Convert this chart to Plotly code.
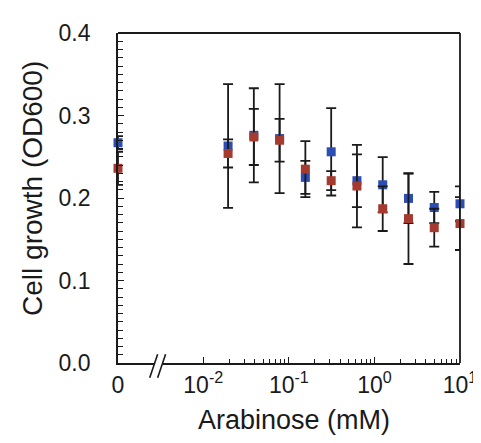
import plotly.graph_objects as go

# ---------------- data ----------------
arabinose_mM = [0.0195, 0.039, 0.078, 0.156, 0.3125, 0.625, 1.25, 2.5, 5, 10]
zero_conc = [0]

blue_vals = [0.263, 0.276, 0.272, 0.225, 0.256, 0.221, 0.216, 0.1995, 0.1885, 0.193]
blue_err = [0.075, 0.057, 0.066, 0.020, 0.053, 0.032, 0.0335, 0.030, 0.019, 0.021]
red_vals = [0.254, 0.274, 0.270, 0.235, 0.221, 0.2145, 0.187, 0.175, 0.164, 0.169]
red_err = [0.017, 0.034, 0.026, 0.034, 0.0115, 0.050, 0.027, 0.055, 0.023, 0.032]

blue_zero = [0.267]
blue_zero_err = [0.008]
red_zero = [0.236]
red_zero_err = [0.020]

x_tickvals = [0.01, 0.1, 1, 10]
x_ticktext = ["10<sup>-2</sup>", "10<sup>-1</sup>", "10<sup>0</sup>", "10<sup>1</sup>"]
y_tickvals = [0.0, 0.1, 0.2, 0.3, 0.4]
y_ticktext = ["0.0", "0.1", "0.2", "0.3", "0.4"]

x_title = "Arabinose (mM)"
y_title = "Cell growth (OD600)"

# ---------------- style ----------------
BLUE = "#2c4db3"
RED = "#a53a2f"
INK = "#1a1a1a"
FONT = "Liberation Sans, Arial, sans-serif"
W, H = 481, 443
ML, MR, MT, MB = 110, 26, 19, 88
PW, PH = W - ML - MR, H - MT - MB

def px_x(p):
    return (p - ML) / PW

def px_y(p):
    return (MT + PH - p) / PH

err_style = dict(type="data", color=INK, thickness=1.8, width=5, visible=True)
marker_size = 9

fig = go.Figure()

# zero-concentration points (linear stub axis)
fig.add_trace(go.Scatter(x=zero_conc, y=blue_zero, xaxis="x2", yaxis="y", mode="markers",
                         marker=dict(symbol="square", size=marker_size, color=BLUE),
                         error_y=dict(array=blue_zero_err, **err_style),
                         cliponaxis=False, showlegend=False))
fig.add_trace(go.Scatter(x=zero_conc, y=red_zero, xaxis="x2", yaxis="y", mode="markers",
                         marker=dict(symbol="square", size=marker_size, color=RED),
                         error_y=dict(array=red_zero_err, **err_style),
                         cliponaxis=False, showlegend=False))

# log-axis points
fig.add_trace(go.Scatter(x=arabinose_mM, y=blue_vals, xaxis="x", yaxis="y", mode="markers",
                         marker=dict(symbol="square", size=marker_size, color=BLUE),
                         error_y=dict(array=blue_err, **err_style),
                         cliponaxis=False, showlegend=False))
fig.add_trace(go.Scatter(x=arabinose_mM, y=red_vals, xaxis="x", yaxis="y", mode="markers",
                         marker=dict(symbol="square", size=marker_size, color=RED),
                         error_y=dict(array=red_err, **err_style),
                         cliponaxis=False, showlegend=False))

decade_px = (455 - 196) / 3.0
log_left = -2 - (196 - 155) / decade_px
log_right = 1.0

minor_vals = [m * 10 ** e for e in (-2, -1, 0) for m in range(2, 10)]

tickfont = dict(family=FONT, size=23, color=INK)

fig.update_layout(
    width=W, height=H,
    margin=dict(l=ML, r=MR, t=MT, b=MB, pad=0),
    paper_bgcolor="white", plot_bgcolor="white",
    font=dict(family=FONT, color=INK),
    xaxis=dict(type="log", domain=[px_x(155), 1], range=[log_left, log_right],
               anchor="y", showgrid=False, zeroline=False,
               showline=True, linecolor=INK, linewidth=1.8,
               tickmode="array", tickvals=x_tickvals, ticktext=x_ticktext,
               ticks="inside", ticklen=6, tickwidth=1.3, tickcolor=INK,
               minor=dict(tickmode="array", tickvals=minor_vals, ticks="inside",
                          ticklen=4, tickwidth=1.3, tickcolor=INK, showgrid=False),
               tickfont=tickfont, ticklabelstandoff=0),
    xaxis2=dict(type="linear", domain=[0, px_x(146)], range=[0, 1],
                anchor="y", showgrid=False, zeroline=False,
                showline=True, linecolor=INK, linewidth=1.8,
                tickmode="array", tickvals=[0], ticktext=["0"],
                ticks="", tickfont=tickfont, ticklabelstandoff=0),
    yaxis=dict(range=[0, 0.4], domain=[0, 1], anchor="x2",
               showgrid=False, zeroline=False,
               showline=True, linecolor=INK, linewidth=1.8,
               tickmode="array", tickvals=y_tickvals, ticktext=y_ticktext,
               ticks="inside", ticklen=6, tickwidth=1.3, tickcolor=INK,
               minor=dict(dtick=0.01, ticks="inside", ticklen=5, tickwidth=1.3,
                          tickcolor=INK, showgrid=False),
               tickfont=tickfont, ticklabelstandoff=21),
    shapes=[
        dict(type="line", xref="paper", yref="paper", x0=0, x1=1, y0=1, y1=1,
             line=dict(color=INK, width=1.8)),
        dict(type="line", xref="paper", yref="paper", x0=1, x1=1, y0=0, y1=1,
             line=dict(color=INK, width=1.8)),
        dict(type="line", xref="paper", yref="paper",
             x0=px_x(142), y0=px_y(370), x1=px_x(150), y1=px_y(346),
             line=dict(color=INK, width=1.6)),
        dict(type="line", xref="paper", yref="paper",
             x0=px_x(150), y0=px_y(370), x1=px_x(158), y1=px_y(346),
             line=dict(color=INK, width=1.6)),
    ],
    annotations=[
        dict(text=x_title, xref="paper", yref="paper", x=px_x(288), y=px_y(413),
             xanchor="center", yanchor="middle", showarrow=False,
             font=dict(family=FONT, size=27, color=INK)),
        dict(text=y_title, xref="paper", yref="paper", x=px_x(23), y=px_y(177),
             xanchor="center", yanchor="middle", showarrow=False, textangle=-90,
             font=dict(family=FONT, size=28, color=INK)),
    ],
)

fig.write_html("out.html")
